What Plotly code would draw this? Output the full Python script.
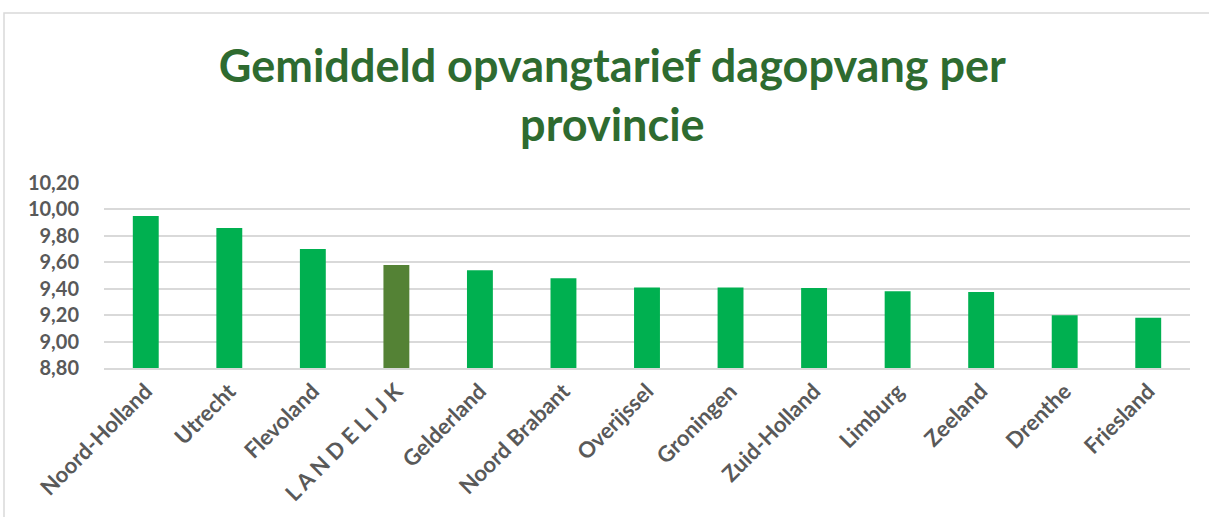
import plotly.graph_objects as go

provinces = ["Noord-Holland", "Utrecht", "Flevoland", "L A N D E L I J K", "Gelderland",
             "Noord Brabant", "Overijssel", "Groningen", "Zuid-Holland", "Limburg",
             "Zeeland", "Drenthe", "Friesland"]
tarief = [9.95, 9.86, 9.70, 9.58, 9.54, 9.48, 9.41, 9.41, 9.405, 9.38, 9.375, 9.20, 9.18]
y_ticks = [8.80, 9.00, 9.20, 9.40, 9.60, 9.80, 10.00, 10.20]
y_tick_labels = ["8,80", "9,00", "9,20", "9,40", "9,60", "9,80", "10,00", "10,20"]

bar_green = "#00B050"
highlight = "#548235"
colors = [highlight if p.startswith("L A N") else bar_green for p in provinces]

FONT = "Lato"
GRAY = "#595959"

fig = go.Figure(go.Bar(
    x=provinces, y=tarief, marker=dict(color=colors, line=dict(width=0)),
    width=0.31,
))

fig.update_layout(
    width=1209, height=517,
    margin=dict(l=104, r=19, t=183, b=149, autoexpand=False),
    paper_bgcolor="white", plot_bgcolor="white",
    showlegend=False,
    title=dict(
        text="<b>Gemiddeld opvangtarief dagopvang per<br>provincie</b>",
        font=dict(family=FONT, size=45, color="#2E6B30"),
        x=0.5065, xanchor="center", xref="container",
        y=1 - 82 / 517, yanchor="top", yref="container",
    ),
    font=dict(family=FONT, color=GRAY),
)

fig.update_yaxes(
    range=[8.80, 10.20], tickvals=y_ticks, ticktext=y_tick_labels,
    showgrid=True, gridcolor="#D9D9D9", gridwidth=1.5,
    zeroline=False, showline=False, ticks="",
    tickfont=dict(family=FONT, size=20, color=GRAY, weight="bold"),
    ticklabelstandoff=24, automargin=False,
)
fig.update_xaxes(
    showline=True, linecolor="#D9D9D9", linewidth=1.5,
    ticks="", tickangle=-45, automargin=False,
    tickfont=dict(family=FONT, size=22, color=GRAY, weight="bold"),
)

fig.add_shape(type="rect", xref="paper", yref="paper",
              x0=(4 - 104) / 1086, x1=1.05, y0=-1.0, y1=(368 - 13) / 185,
              line=dict(color="#D9D9D9", width=1.5), fillcolor="rgba(0,0,0,0)",
              layer="below")

fig.write_html("out.html",
               config={"displayModeBar": False},
               post_script="document.body.style.margin='0';document.body.style.overflow='hidden';")
